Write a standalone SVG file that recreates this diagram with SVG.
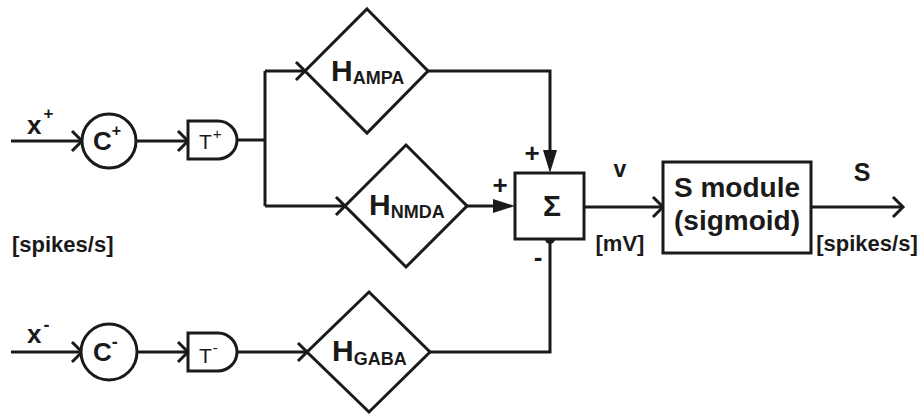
<svg xmlns="http://www.w3.org/2000/svg" width="921" height="417" viewBox="0 0 921 417">
<defs>
<style>
.ln{fill:none;stroke:#1a1a1a;stroke-width:3;stroke-linejoin:miter}
.sh{fill:#fff;stroke:#1a1a1a;stroke-width:3}
.ch{fill:none;stroke:#1a1a1a;stroke-width:3;stroke-linecap:butt;stroke-linejoin:miter}
.fa{fill:#1a1a1a;stroke:none}
text{font-family:"Liberation Sans",Arial,sans-serif;font-weight:bold;fill:#1a1a1a}
.t{font-weight:normal}
</style>
</defs>
<rect width="921" height="417" fill="#fff"/>
<g id="connectors">
<path class="ln" d="M11,141 H82"/>
<path class="ch" d="M72,131 L82,141 L72,151"/>
<path class="ln" d="M136,141 H188"/>
<path class="ch" d="M178,131 L188,141 L178,151"/>
<path class="ln" d="M237,140 H265 M265,71 V206 M265,71 H305 M265,206 H345"/>
<path class="ch" d="M296,62 L305,71 L296,80"/>
<path class="ch" d="M336,197 L345,206 L336,215"/>
<path class="ln" d="M428,71 H550 V152"/>
<path class="fa" d="M543,150 L557,150 L550,173 Z"/>
<path class="ln" d="M467,206 H495"/>
<path class="fa" d="M493,199 L515,206 L493,213 Z"/>
<path class="ln" d="M11,352 H82"/>
<path class="ch" d="M72,342 L82,352 L72,362"/>
<path class="ln" d="M137,352 H188"/>
<path class="ch" d="M178,342 L188,352 L178,362"/>
<path class="ln" d="M237,352 H307"/>
<path class="ch" d="M298,343 L307,352 L298,361"/>
<path class="ln" d="M430,352 H550 V239"/>
<circle class="fa" cx="550" cy="239" r="5"/>
<path class="ln" d="M584,207 H663"/>
<path class="ch" d="M653,197 L663,207 L653,217"/>
<path class="ln" d="M811,207 H903"/>
<path class="ch" d="M893,197 L903,207 L893,217"/>
</g>
<g id="inputs">
<text x="27" y="134" font-size="26">x<tspan dy="-15" dx="2" font-size="17">+</tspan></text>
<text x="27" y="343" font-size="26">x<tspan dy="-12" dx="2" font-size="18">-</tspan></text>
<text x="12" y="252" font-size="22">[spikes/s]</text>
</g>
<g id="Cplus">
<circle class="sh" cx="109" cy="141" r="27"/>
<text x="93" y="150" font-size="26">C<tspan dy="-14" font-size="16">+</tspan></text>
</g>
<g id="Cminus">
<circle class="sh" cx="109" cy="352" r="28"/>
<text x="93" y="361" font-size="26">C<tspan dy="-13" font-size="18">-</tspan></text>
</g>
<g id="Tplus">
<path class="sh" d="M188,121 H218 A19,19 0 0 1 218,159 H188 Z"/>
<text class="t" x="199" y="149" font-size="21">T<tspan dy="-10" dx="1" font-size="15">+</tspan></text>
</g>
<g id="Tminus">
<path class="sh" d="M188,333 H218 A19,19 0 0 1 218,371 H188 Z"/>
<text class="t" x="199" y="363" font-size="21">T<tspan dy="-10" dx="1" font-size="15">-</tspan></text>
</g>
<g id="HAMPA">
<path class="sh" d="M367,9 L428,71 L367,133 L305,71 Z"/>
<text x="331" y="81" font-size="30">H<tspan dy="3" font-size="18">AMPA</tspan></text>
</g>
<g id="HNMDA">
<path class="sh" d="M406,145 L467,206 L406,267 L345,206 Z"/>
<text x="369" y="215" font-size="30">H<tspan dy="3" font-size="18">NMDA</tspan></text>
</g>
<g id="HGABA">
<path class="sh" d="M369,292 L430,352 L369,412 L307,352 Z"/>
<text x="332" y="361" font-size="30">H<tspan dy="4" font-size="18">GABA</tspan></text>
</g>
<g id="sum">
<rect class="sh" x="515" y="173" width="69" height="66"/>
<text x="552" y="216" font-size="30" text-anchor="middle">Σ</text>
<text x="532" y="162" font-size="26" text-anchor="middle">+</text>
<text x="500" y="194" font-size="26" text-anchor="middle">+</text>
<text x="538" y="266" font-size="26" text-anchor="middle">-</text>
</g>
<g id="smodule">
<rect class="sh" x="663" y="162" width="148" height="91"/>
<text x="737" y="197" font-size="28" text-anchor="middle">S module</text>
<text x="737" y="230" font-size="28" text-anchor="middle">(sigmoid)</text>
</g>
<g id="labels">
<text x="620" y="177" font-size="23" text-anchor="middle">v</text>
<text x="620" y="251" font-size="22" text-anchor="middle">[mV]</text>
<text x="862" y="181" font-size="25" text-anchor="middle">S</text>
<text x="867" y="251" font-size="22" text-anchor="middle">[spikes/s]</text>
</g>
</svg>
